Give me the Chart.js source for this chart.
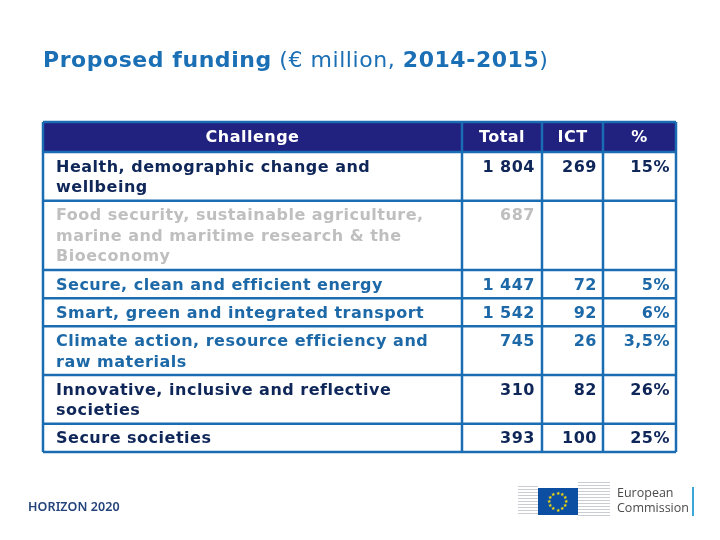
<!DOCTYPE html>
<html>
<head>
<meta charset="utf-8">
<script src="https://cdn.jsdelivr.net/npm/chart.js@4"></script>
<style>
  html, body { margin: 0; padding: 0; background: #fff; }
  #wrap { position: relative; width: 720px; height: 540px; overflow: hidden; }
  #chart { position: absolute; left: 0; top: 0; }
  #title {
    position: absolute; left: 43px; top: 47px; white-space: nowrap; letter-spacing: 0.55px;
    font-family: 'DejaVu Sans', Verdana, sans-serif; font-size: 22px; color: #1b6fb5;
  }
  #title b { font-weight: bold; }
  #horizon {
    position: absolute; left: 28px; top: 498px;
    font-family: 'Noto Sans', sans-serif; font-size: 12.5px; font-weight: 600; color: #24437a;
    letter-spacing: 0.1px;
  }
  #ec { position: absolute; left: 516px; top: 478px; width: 190px; height: 44px; }
  .bld { position: absolute; background: repeating-linear-gradient(to bottom, #c9ccd2 0 1px, #fff 1px 3px); }
  #flag { position: absolute; left: 22px; top: 10px; width: 40px; height: 27px; background: #0b4ea2; }
  .star { position: absolute; color: #ffde00; font-size: 5px; line-height: 5px; }
  #ectext {
    position: absolute; left: 101px; top: 7px; font-family: 'Open Sans', sans-serif;
    font-size: 12.5px; line-height: 15px; color: #4a4a4a;
  }
  #ecbar { position: absolute; left: 176px; top: 9px; width: 2px; height: 29px; background: #3ba7d9; }
</style>
</head>
<body>
<div id="wrap">
  <canvas id="chart" width="720" height="540"></canvas>
  <div id="title"><b>Proposed funding</b> (€ million, <b>2014-2015</b>)</div>
  <div id="horizon">HORIZON 2020</div>
  <div id="ec">
    <div class="bld" style="left:2px; top:8px; width:20px; height:30px;"></div>
    <div class="bld" style="left:62px; top:4px; width:32px; height:34px;"></div>
    <div id="flag"></div>
    <div id="ectext">European<br>Commission</div>
    <div id="ecbar"></div>
  </div>
</div>
<script>
// table content
const headers = ['Challenge', 'Total', 'ICT', '%'];
const challenges = [
    ['Health, demographic change and', 'wellbeing'],
    ['Food security, sustainable agriculture,', 'marine and maritime research & the', 'Bioeconomy'],
    ['Secure, clean and efficient energy'],
    ['Smart, green and integrated transport'],
    ['Climate action, resource efficiency and', 'raw materials'],
    ['Innovative, inclusive and reflective', 'societies'],
    ['Secure societies']
];
const totals = [1804, 687, 1447, 1542, 745, 310, 393];
const ictValues = [269, null, 72, 92, 26, 82, 100];
const ictShare = [15, null, 5, 6, 3.5, 26, 25];

// looks
const rowColors = ['#0f2658', '#bfbfbf', '#1d69a8', '#1d69a8', '#1d69a8', '#0f2658', '#0f2658'];
const colWidths = [419, 80, 61, 73];
const headerUnits = 1.46;
const rowPad = 0.37;
const headerBg = '#212180';
const lineColor = '#1a6db2';
const font = "bold 16px 'DejaVu Sans', Verdana, sans-serif";

const fmtInt = v => v == null ? '' : String(v).replace(/\B(?=(\d{3})+(?!\d))/g, ' ');
const fmtPct = v => v == null ? '' : String(v).replace('.', ',') + '%';

// row spans in "line" units
const rowSpans = challenges.map(c => c.length + rowPad);
const totalUnits = headerUnits + rowSpans.reduce((a, b) => a + b, 0);
const totalWidth = colWidths.reduce((a, b) => a + b, 0);

const tablePlugin = {
    id: 'tableCells',
    afterDraw(chart) {
        const { ctx, scales: { x, y } } = chart;
        const colEdges = [0];
        colWidths.forEach(w => colEdges.push(colEdges[colEdges.length - 1] + w));
        const xe = colEdges.map(v => x.getPixelForValue(v));
        const rowEdges = [0, headerUnits];
        rowSpans.forEach(s => rowEdges.push(rowEdges[rowEdges.length - 1] + s));
        const ye = rowEdges.map(v => y.getPixelForValue(v));

        ctx.save();
        // header background
        ctx.fillStyle = headerBg;
        ctx.fillRect(xe[0], ye[0], xe[xe.length - 1] - xe[0], ye[1] - ye[0]);

        ctx.font = font;
        ctx.letterSpacing = '0.5px';
        ctx.textBaseline = 'middle';
        // header text
        ctx.fillStyle = '#ffffff';
        ctx.textAlign = 'center';
        headers.forEach((h, i) => {
            ctx.fillText(h, (xe[i] + xe[i + 1]) / 2, (ye[0] + ye[1]) / 2 + 1);
        });

        // body text
        challenges.forEach((lines, r) => {
            ctx.fillStyle = rowColors[r];
            const top = rowEdges[r + 1];
            ctx.textAlign = 'left';
            lines.forEach((ln, k) => {
                ctx.fillText(ln, xe[0] + 13, y.getPixelForValue(top + 0.75 + k));
            });
            const yy = y.getPixelForValue(top + 0.75);
            ctx.textAlign = 'right';
            ctx.fillText(fmtInt(totals[r]), xe[2] - 7, yy);
            ctx.fillText(fmtInt(ictValues[r]), xe[3] - 6, yy);
            ctx.fillText(fmtPct(ictShare[r]), xe[4] - 6, yy);
        });

        // grid lines
        ctx.strokeStyle = lineColor;
        ctx.lineWidth = 2.5;
        ctx.beginPath();
        ye.forEach(py => { ctx.moveTo(xe[0], py); ctx.lineTo(xe[xe.length - 1], py); });
        xe.forEach(px => {
            ctx.moveTo(px, ye[0]);
            ctx.lineTo(px, ye[ye.length - 1]);
        });
        ctx.stroke();
        ctx.restore();
    }
};

new Chart(document.getElementById('chart'), {
    type: 'scatter',
    data: { datasets: [{ data: [] }] },
    options: {
        responsive: false,
        animation: false,
        layout: { padding: { left: 43, right: 44, top: 122, bottom: 88 } },
        scales: {
            x: { type: 'linear', min: 0, max: totalWidth, display: false },
            y: { type: 'linear', min: 0, max: totalUnits, reverse: true, display: false }
        },
        plugins: { legend: { display: false }, tooltip: { enabled: false } }
    },
    plugins: [tablePlugin]
});

// EU flag stars (logo decoration)
const flag = document.getElementById('flag');
for (let i = 0; i < 12; i++) {
    const a = i * Math.PI / 6;
    const s = document.createElement('span');
    s.className = 'star';
    s.textContent = '★';
    s.style.left = (20 + 8.5 * Math.cos(a) - 2.5) + 'px';
    s.style.top = (13.5 + 8.5 * Math.sin(a) - 2.5) + 'px';
    flag.appendChild(s);
}
</script>
</body>
</html>
